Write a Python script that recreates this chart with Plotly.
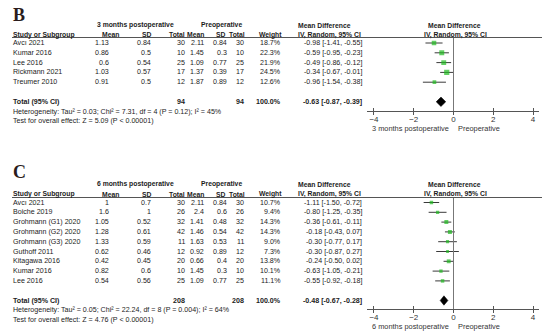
import math
import plotly.graph_objects as go

# ---------------- data: panel B (3 months postoperative vs preoperative) ----------------
studies_b = ["Avcı 2021", "Kumar 2016", "Lee 2016", "Rickmann 2021", "Treumer 2010"]
post_mean_b = [1.13, 0.86, 0.6, 1.03, 0.91]
post_sd_b = [0.84, 0.5, 0.54, 0.57, 0.5]
post_n_b = [30, 10, 25, 17, 12]
pre_mean_b = [2.11, 1.45, 1.09, 1.37, 1.87]
pre_sd_b = [0.84, 0.3, 0.77, 0.39, 0.89]
pre_n_b = [30, 10, 25, 17, 12]
weight_b = [18.7, 22.3, 21.9, 24.5, 12.6]
md_b = [-0.98, -0.59, -0.49, -0.34, -0.96]
lo_b = [-1.41, -0.95, -0.86, -0.67, -1.54]
hi_b = [-0.55, -0.23, -0.12, -0.01, -0.38]
total_b = dict(n_post=94, n_pre=94, md=-0.63, lo=-0.87, hi=-0.39)
het_b = "Heterogeneity: Tau² = 0.03; Chi² = 7.31, df = 4 (P = 0.12); I² = 45%"
test_b = "Test for overall effect: Z = 5.09 (P < 0.00001)"
group_b = "3 months postoperative"

# ---------------- data: panel C (6 months postoperative vs preoperative) ----------------
studies_c = ["Avcı 2021", "Boiche 2019", "Grohmann (G1) 2020", "Grohmann (G2) 2020",
             "Grohmann (G3) 2020", "Guthoff 2011", "Kitagawa 2016", "Kumar 2016", "Lee 2016"]
post_mean_c = [1, 1.6, 1.05, 1.28, 1.33, 0.62, 0.42, 0.82, 0.54]
post_sd_c = [0.7, 1, 0.52, 0.61, 0.59, 0.46, 0.45, 0.6, 0.56]
post_n_c = [30, 26, 32, 42, 11, 12, 20, 10, 25]
pre_mean_c = [2.11, 2.4, 1.41, 1.46, 1.63, 0.92, 0.66, 1.45, 1.09]
pre_sd_c = [0.84, 0.6, 0.48, 0.54, 0.53, 0.89, 0.4, 0.3, 0.77]
pre_n_c = [30, 26, 32, 42, 11, 12, 20, 10, 25]
weight_c = [10.7, 9.4, 14.3, 14.3, 9.0, 7.3, 13.8, 10.1, 11.1]
md_c = [-1.11, -0.80, -0.36, -0.18, -0.30, -0.30, -0.24, -0.63, -0.55]
lo_c = [-1.50, -1.25, -0.61, -0.43, -0.77, -0.87, -0.50, -1.05, -0.92]
hi_c = [-0.72, -0.35, -0.11, 0.07, 0.17, 0.27, 0.02, -0.21, -0.18]
total_c = dict(n_post=208, n_pre=208, md=-0.48, lo=-0.67, hi=-0.28)
het_c = "Heterogeneity: Tau² = 0.05; Chi² = 22.24, df = 8 (P = 0.004); I² = 64%"
test_c = "Test for overall effect: Z = 4.76 (P < 0.00001)"
group_c = "6 months postoperative"

tick_vals = [-4, -2, 0, 2, 4]

# ---------------- layout helpers ----------------
# The page body has a default 8px margin, so the figure is drawn 8px smaller and
# positions below are given in window pixels and shifted by that offset.
OFF = 8
W, H = 550 - OFF, 334 - OFF
ROW = 9.8
FONT = "Liberation Sans, Arial, sans-serif"
FS = 7.1
HFS = 6.8
TXT = "#1c1c1c"
GREEN = "#1fba1f"


def fx(p):
    return (p - OFF) / W


def fy(p):
    return 1 - (p - OFF) / H


def g(v):
    return f"{v:g}"


def ci(m, l, h):
    return f"{m:.2f} [{l:.2f}, {h:.2f}]"


panels = [
    dict(letter="B", sfx="", ov="3", letter_y=15, h1=25, h2=35, rule=37.5, row0=43, axis=111, sub=128,
         studies=studies_b, pm=post_mean_b, psd=post_sd_b, pn=post_n_b, qm=pre_mean_b, qsd=pre_sd_b,
         qn=pre_n_b, w=weight_b, md=md_b, lo=lo_b, hi=hi_b, tot=total_b, het=het_b, test=test_b,
         group=group_b),
    dict(letter="C", sfx="2", ov="4", letter_y=172, h1=184, h2=194, rule=197.5, row0=202.5, axis=309, sub=326.5,
         studies=studies_c, pm=post_mean_c, psd=post_sd_c, pn=post_n_c, qm=pre_mean_c, qsd=pre_sd_c,
         qn=pre_n_c, w=weight_c, md=md_c, lo=lo_c, hi=hi_c, tot=total_c, het=het_c, test=test_c,
         group=group_c),
]

fig = go.Figure()
annotations = []
shapes = []
layout_axes = {}

XDOM = [fx(367), fx(539)]
XRANGE = [-4.35, 4.3]


def ann(text, x, y, xanchor="left", yref="paper", size=FS, color=TXT, family=FONT):
    annotations.append(dict(text=text, x=x, y=y, xref="paper", yref=yref, xanchor=xanchor,
                            yanchor="middle", showarrow=False, borderpad=0,
                            font=dict(family=family, size=size, color=color)))


for P in panels:
    n = len(P["studies"])
    xa = "x" + P["sfx"]
    ya = "y" + P["sfx"]
    xo = "x" + P["ov"]
    rows = list(range(n))
    trow = n + 1

    # CI whiskers
    lx, ly = [], []
    for i in rows:
        lx += [P["lo"][i], P["hi"][i], None]
        ly += [i, i, None]
    fig.add_trace(go.Scatter(x=lx, y=ly, mode="lines", xaxis=xa, yaxis=ya,
                             line=dict(color="#3a3a3a", width=1), hoverinfo="skip"))
    # total diamond
    t = P["tot"]
    fig.add_trace(go.Scatter(x=[t["lo"], t["md"], t["hi"], t["md"], t["lo"]],
                             y=[trow, trow - 0.48, trow, trow + 0.48, trow],
                             mode="lines", fill="toself", fillcolor="black",
                             line=dict(color="black", width=0.5), xaxis=xa, yaxis=ya,
                             hoverinfo="skip"))
    # study squares (weight-scaled), on overlay axis so they sit above the whiskers
    fig.add_trace(go.Scatter(x=P["md"], y=rows, mode="markers", xaxis=xo, yaxis=ya,
                             marker=dict(symbol="square", color=GREEN,
                                         size=[1.05 * math.sqrt(w) for w in P["w"]],
                                         line=dict(width=0)),
                             hoverinfo="skip"))

    ydom = [fy(P["axis"]), fy(P["rule"])]
    yrange = [(P["axis"] - P["row0"]) / ROW, (P["rule"] - P["row0"]) / ROW]
    layout_axes["yaxis" + P["sfx"]] = dict(domain=ydom, range=yrange, visible=False,
                                           anchor=xa, fixedrange=True)
    # main axis: line, upper tick halves and labels
    layout_axes["xaxis" + P["sfx"]] = dict(
        domain=XDOM, range=XRANGE, anchor=ya, showline=True, linecolor="#555", linewidth=1,
        ticks="inside", ticklen=3, tickcolor="#555", tickwidth=1, tickvals=tick_vals,
        showgrid=False, zeroline=False, fixedrange=True,
        tickfont=dict(family=FONT, size=8, color="#333"))
    # overlay axis: lower tick halves so the ticks cross the line
    layout_axes["xaxis" + P["ov"]] = dict(
        overlaying=xa, anchor=ya, range=XRANGE, showline=False, ticks="outside", ticklen=3,
        tickcolor="#555", tickwidth=1, tickvals=tick_vals, showticklabels=False,
        showgrid=False, zeroline=False, fixedrange=True)

    # zero reference line and header rule
    shapes.append(dict(type="line", xref=xa, x0=0, x1=0, yref=ya + " domain", y0=0, y1=1,
                       line=dict(color="#777", width=1)))
    shapes.append(dict(type="line", xref="paper", x0=fx(12), x1=fx(545), yref="paper",
                       y0=fy(P["rule"]), y1=fy(P["rule"]), line=dict(color="#555", width=1)))

    # panel letter
    ann(f"<b>{P['letter']}</b>", fx(12), fy(P["letter_y"]), size=18, color="#2a1c1c",
        family="Liberation Serif, Times New Roman, serif")

    # header row 1
    ann(f"<b>{P['group']}</b>", fx(135), fy(P["h1"]), xanchor="center", size=HFS)
    ann("<b>Preoperative</b>", fx(221), fy(P["h1"]), xanchor="center", size=HFS)
    ann("<b>Mean Difference</b>", fx(297), fy(P["h1"]), size=HFS)
    ann("<b>Mean Difference</b>", fx(454), fy(P["h1"]), xanchor="center", size=HFS)
    # header row 2
    h2 = fy(P["h2"])
    ann("<b>Study or Subgroup</b>", fx(12), h2, size=HFS)
    ann("<b>Mean</b>", fx(120), h2, "right", size=HFS)
    ann("<b>SD</b>", fx(153), h2, "right", size=HFS)
    ann("<b>Total</b>", fx(186), h2, "right", size=HFS)
    ann("<b>Mean</b>", fx(205), h2, "right", size=HFS)
    ann("<b>SD</b>", fx(227), h2, "right", size=HFS)
    ann("<b>Total</b>", fx(246), h2, "right", size=HFS)
    ann("<b>Weight</b>", fx(283), h2, "right", size=HFS)
    ann("<b>IV, Random, 95% CI</b>", fx(297), h2, size=HFS)
    ann("<b>IV, Random, 95% CI</b>", fx(455), h2, xanchor="center", size=HFS)

    # study rows (anchored to the same y scale as the marks)
    for i in rows:
        ann(P["studies"][i], fx(12), i, yref=ya)
        ann(g(P["pm"][i]), fx(110), i, "right", yref=ya)
        ann(g(P["psd"][i]), fx(152), i, "right", yref=ya)
        ann(str(P["pn"][i]), fx(186), i, "right", yref=ya)
        ann(g(P["qm"][i]), fx(205), i, "right", yref=ya)
        ann(g(P["qsd"][i]), fx(228), i, "right", yref=ya)
        ann(str(P["qn"][i]), fx(245), i, "right", yref=ya)
        ann(f"{P['w'][i]:.1f}%", fx(282), i, "right", yref=ya)
        ann(ci(P["md"][i], P["lo"][i], P["hi"][i]), fx(363), i, "right", yref=ya)

    # total row
    ann("<b>Total (95% CI)</b>", fx(12), trow, yref=ya)
    ann(f"<b>{t['n_post']}</b>", fx(186), trow, "right", yref=ya)
    ann(f"<b>{t['n_pre']}</b>", fx(245), trow, "right", yref=ya)
    ann(f"<b>{sum(P['w']):.1f}%</b>", fx(282), trow, "right", yref=ya)
    ann(f"<b>{ci(t['md'], t['lo'], t['hi'])}</b>", fx(363), trow, "right", yref=ya)

    # footnotes
    ann(P["het"], fx(12), fy(P["row0"] + ROW * (n + 2)))
    ann(P["test"], fx(12), fy(P["row0"] + ROW * (n + 3)))

    # axis captions
    ann(P["group"], fx(371), fy(P["sub"]), size=7.4, color="#333")
    ann("Preoperative", fx(457), fy(P["sub"]), size=7.4, color="#333")

fig.update_layout(
    width=W, height=H, autosize=False,
    margin=dict(l=0, r=0, t=0, b=0),
    paper_bgcolor="white", plot_bgcolor="rgba(0,0,0,0)",
    showlegend=False,
    annotations=annotations, shapes=shapes,
    **layout_axes,
)

fig.write_html("out.html")
